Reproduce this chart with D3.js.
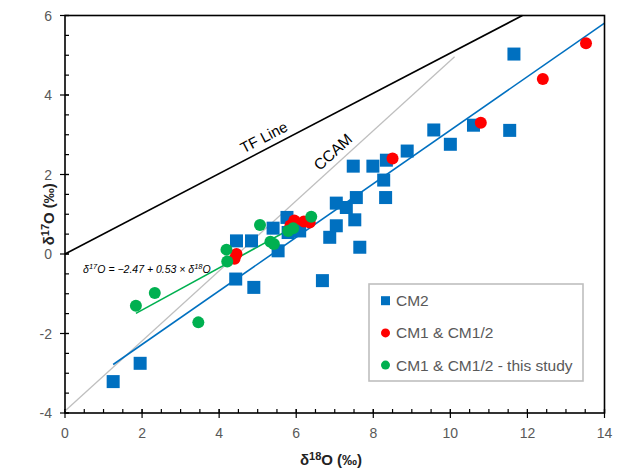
<!DOCTYPE html>
<html><head><meta charset="utf-8">
<script src="https://cdn.jsdelivr.net/npm/d3@7"></script>
<style>body{margin:0;background:#fff}svg{display:block}</style>
</head><body>
<svg id="c" width="618" height="472"></svg>
<script>
// Data (δ18O, δ17O)
const cm2 = [[1.25,-3.21],[1.95,-2.75],[4.43,-0.63],[4.90,-0.84],[6.68,-0.67],[4.45,0.33],[4.84,0.33],[5.53,0.08],[5.40,0.65],[5.76,0.92],[5.79,0.54],[6.09,0.58],[6.87,0.42],[7.04,0.71],[7.04,1.28],[7.30,1.17],[7.52,0.86],[7.65,0.17],[7.56,1.42],[8.32,1.42],[8.27,1.86],[7.48,2.21],[7.99,2.21],[8.34,2.36],[8.88,2.59],[9.57,3.12],[10.0,2.76],[10.6,3.24],[11.54,3.11],[11.65,5.03]];
const cm1 = [[4.45,0.0],[4.40,-0.12],[5.85,0.72],[5.95,0.84],[6.2,0.82],[6.35,0.79],[8.5,2.40],[10.79,3.30],[12.40,4.40],[13.52,5.30]];
const cm1This = [[1.84,-1.30],[2.33,-0.98],[3.46,-1.72],[4.19,0.11],[4.21,-0.19],[5.06,0.73],[5.33,0.31],[5.42,0.25],[5.79,0.58],[5.92,0.65],[6.39,0.94]];
const tfLine = [[0,0],[11.87,6]];
const ccamLine = [[0,-3.95],[10.11,4.96]];
const cm2Line = [[1.25,-2.78],[14,5.81]];
const fitIntercept = -2.47, fitSlope = 0.53, fitRange = [1.84,6.43];
const xTicks = [0,2,4,6,8,10,12,14];
const yTicks = [-4,-2,0,2,4,6];
const legendLabels = ["CM2","CM1 & CM1/2","CM1 & CM1/2 - this study"];

const svg = d3.select("#c");
const L=65, R=604.5, T=15.5, B=413;
const x = d3.scaleLinear().domain([0,14]).range([L,R]);
const y = d3.scaleLinear().domain([-4,6]).range([B,T]);
const font = "'Liberation Sans', Arial, sans-serif";
const BLUE="#0070C0", RED="#FF0000", GREEN="#00B050";

// minor ticks (inward)
const g = svg.append("g");
const xMinor = d3.range(0,14.01,0.5), yMinor = d3.range(-4,6.01,0.5);
g.selectAll(".xm").data(xMinor).join("line")
 .attr("x1",d=>x(d)).attr("x2",d=>x(d)).attr("y1",B).attr("y2",B-4)
 .attr("stroke","#000").attr("stroke-width",1.2);
g.selectAll(".ym").data(yMinor).join("line")
 .attr("y1",d=>y(d)).attr("y2",d=>y(d)).attr("x1",L).attr("x2",L+4)
 .attr("stroke","#000").attr("stroke-width",1.2);
// major ticks outward
g.selectAll(".xM").data(xTicks).join("line")
 .attr("x1",d=>x(d)).attr("x2",d=>x(d)).attr("y1",B-4).attr("y2",B+5)
 .attr("stroke","#000").attr("stroke-width",1.2);
g.selectAll(".yM").data(yTicks).join("line")
 .attr("y1",d=>y(d)).attr("y2",d=>y(d)).attr("x1",L-5).attr("x2",L+4)
 .attr("stroke","#000").attr("stroke-width",1.2);

// tick labels
g.selectAll(".xl").data(xTicks).join("text")
 .attr("x",d=>x(d)).attr("y",B+25).attr("text-anchor","middle")
 .attr("font-family",font).attr("font-size",14).attr("fill","#595959").text(d=>d);
g.selectAll(".yl").data(yTicks).join("text")
 .attr("x",L-13).attr("y",d=>y(d)+5).attr("text-anchor","end")
 .attr("font-family",font).attr("font-size",14).attr("fill","#595959").text(d=>d);

// axis titles
const xt = svg.append("text").attr("x",331).attr("y",465).attr("text-anchor","middle")
 .attr("font-family",font).attr("font-size",15).attr("font-weight","bold").attr("fill","#222");
xt.append("tspan").text("δ");
xt.append("tspan").attr("dy",-5).attr("font-size",11).text("18");
xt.append("tspan").attr("dy",5).text("O (‰)");
const yt = svg.append("text").attr("transform","translate(54,"+((T+B)/2)+") rotate(-90)").attr("text-anchor","middle")
 .attr("font-family",font).attr("font-size",15).attr("font-weight","bold").attr("fill","#222");
yt.append("tspan").text("δ");
yt.append("tspan").attr("dy",-5).attr("font-size",11).text("17");
yt.append("tspan").attr("dy",5).text("O (‰)");

// reference lines
const line = d3.line().x(d=>x(d[0])).y(d=>y(d[1]));
svg.append("path").attr("d",line(ccamLine)).attr("stroke","#BFBFBF").attr("stroke-width",1.3).attr("fill","none");
svg.append("path").attr("d",line(tfLine)).attr("stroke","#000").attr("stroke-width",1.6).attr("fill","none");
svg.append("path").attr("d",line(cm2Line)).attr("stroke",BLUE).attr("stroke-width",1.6).attr("fill","none");
svg.append("path").attr("d",line(fitRange.map(v=>[v,fitIntercept+fitSlope*v]))).attr("stroke",GREEN).attr("stroke-width",1.6).attr("fill","none");

// points
const S=13;
svg.selectAll(".sq").data(cm2).join("rect")
 .attr("x",d=>x(d[0])-S/2).attr("y",d=>y(d[1])-S/2).attr("width",S).attr("height",S).attr("fill",BLUE);
svg.selectAll(".r").data(cm1).join("circle")
 .attr("cx",d=>x(d[0])).attr("cy",d=>y(d[1])).attr("r",6).attr("fill",RED);
svg.selectAll(".gr").data(cm1This).join("circle")
 .attr("cx",d=>x(d[0])).attr("cy",d=>y(d[1])).attr("r",6).attr("fill",GREEN);

// frame
svg.append("rect").attr("x",L).attr("y",T).attr("width",R-L).attr("height",B-T)
 .attr("fill","none").attr("stroke","#000").attr("stroke-width",1.6);

// annotations
svg.append("text").attr("transform",`translate(${x(5.16)},${y(2.94)}) rotate(-27.5)`)
 .attr("text-anchor","middle").attr("dy","0.35em").attr("font-family",font).attr("font-size",15).attr("fill","#000").text("TF Line");
svg.append("text").attr("transform",`translate(${x(6.95)},${y(2.57)}) rotate(-42.4)`)
 .attr("text-anchor","middle").attr("dy","0.35em").attr("font-family",font).attr("font-size",15.5).attr("fill","#000").text("CCAM");
const eq = svg.append("text").attr("x",x(0.47)).attr("y",y(-0.48)).attr("font-family",font)
 .attr("font-size",10.5).attr("font-style","italic").attr("fill","#000");
eq.append("tspan").text("δ");
eq.append("tspan").attr("dy",-4).attr("font-size",7.5).text("17");
eq.append("tspan").attr("dy",4).text("O = −2.47 + 0.53 × δ");
eq.append("tspan").attr("dy",-4).attr("font-size",7.5).text("18");
eq.append("tspan").attr("dy",4).text("O");

// legend
const lg = svg.append("g");
lg.append("rect").attr("x",369).attr("y",284).attr("width",214).attr("height",97)
 .attr("fill","#fff").attr("stroke","#BFBFBF").attr("stroke-width",1.6);
const colors=[BLUE,RED,GREEN];
legendLabels.forEach((t,i)=>{
  const cy=300.7+i*32.2;
  if(i===0) lg.append("rect").attr("x",381).attr("y",cy-4.5).attr("width",9).attr("height",9).attr("fill",colors[i]);
  else lg.append("circle").attr("cx",385.5).attr("cy",cy).attr("r",4.5).attr("fill",colors[i]);
  lg.append("text").attr("x",396).attr("y",cy+5.5).attr("font-family",font).attr("font-size",15.5).attr("fill","#595959").text(t);
});
</script>
</body></html>
